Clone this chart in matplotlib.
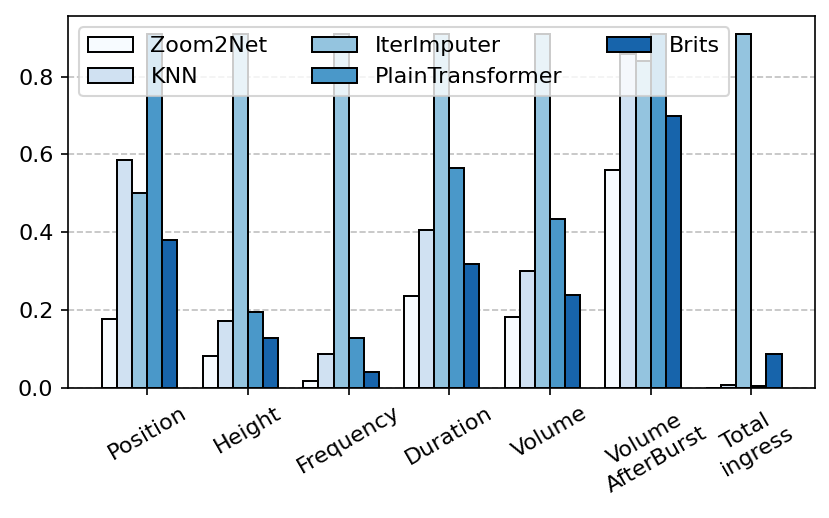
import matplotlib
matplotlib.use("Agg")
import matplotlib.pyplot as plt
import numpy as np

# metric categories on the x axis
categories = ["Position", "Height", "Frequency", "Duration", "Volume",
              "Volume\nAfterBurst", "Total\ningress"]

# one list per method
zoom2net = [0.177, 0.081, 0.018, 0.236, 0.182, 0.561, 0.001]
knn = [0.585, 0.173, 0.087, 0.406, 0.301, 0.859, 0.008]
iterimputer = [0.502, 0.91, 0.91, 0.91, 0.91, 0.840, 0.91]
plaintransformer = [0.91, 0.194, 0.128, 0.566, 0.434, 0.91, 0.004]
brits = [0.380, 0.128, 0.041, 0.318, 0.240, 0.698, 0.087]

methods = ["Zoom2Net", "KNN", "IterImputer", "PlainTransformer", "Brits"]
series = [zoom2net, knn, iterimputer, plaintransformer, brits]

plt.rcParams["font.size"] = 10.7

fig = plt.figure(figsize=(829 / 150, 518 / 150), dpi=150)
ax = fig.add_axes([0.082, 0.251, 0.9017, 0.718])

x = np.arange(len(categories))
w = 0.15
colors = plt.cm.Blues(np.linspace(0.0, 0.8, len(methods)))

for i, (name, vals) in enumerate(zip(methods, series)):
    ax.bar(x + (i - 2.5) * w, vals, w, color=colors[i], edgecolor="black",
           linewidth=0.95, label=name)

ax.set_xticks(x)
ax.set_xticklabels(categories, rotation=30)
ax.set_yticks([0.0, 0.2, 0.4, 0.6, 0.8])
ax.set_axisbelow(True)
ax.yaxis.grid(True, linestyle="--", color="#c0c0c0", linewidth=0.8)

ax.legend(ncol=3, loc="upper left")

fig.savefig("out.png", dpi=150)
